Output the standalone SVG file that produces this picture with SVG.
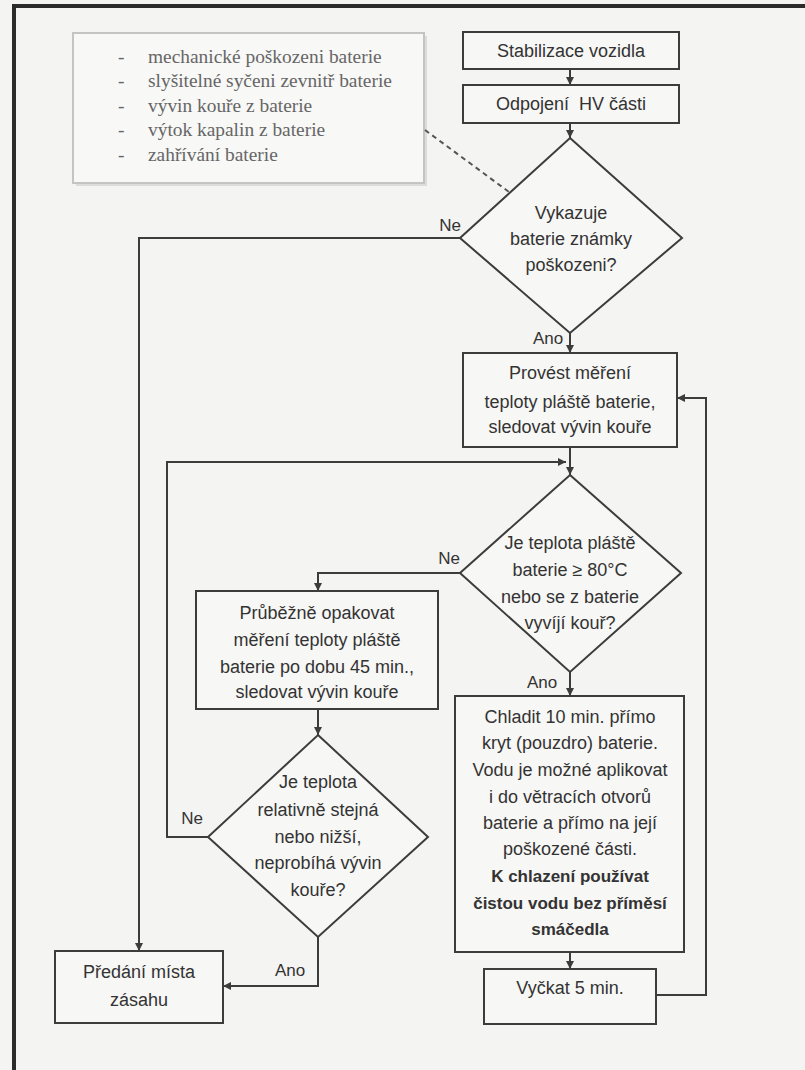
<svg xmlns="http://www.w3.org/2000/svg" width="805" height="1070" viewBox="0 0 805 1070">
<style>
.bg{fill:#f4f4f2}
.frame{fill:#2b2b2b}
.box{fill:#f7f7f5;stroke:#3c3c3c;stroke-width:2}
.note{fill:#f8f8f6;stroke:#c4c4c0;stroke-width:2}
.shadow{fill:#dcdcd8}
.t{font-family:"Liberation Sans",Arial,sans-serif;font-size:18px;fill:#333;text-anchor:middle}
.b{font-weight:bold;font-size:17px}
.lbl{font-family:"Liberation Sans",Arial,sans-serif;font-size:17px;fill:#333;text-anchor:middle}
.n{font-family:"Liberation Serif","Times New Roman",serif;font-size:19.4px;fill:#666}
.c{fill:none;stroke:#3c3c3c;stroke-width:2}
.d{fill:none;stroke:#555;stroke-width:2;stroke-dasharray:5 4}
</style>
<defs>
<marker id="ah" markerUnits="userSpaceOnUse" markerWidth="9" markerHeight="9" refX="8" refY="4" orient="auto">
<path d="M0,0 L8,4 L0,8 z" fill="#3c3c3c"/>
</marker>
</defs>
<rect class="bg" x="0" y="0" width="805" height="1070"/>
<rect class="frame" x="12" y="4" width="793" height="4"/>
<rect class="frame" x="12" y="4" width="4" height="1066"/>

<g id="note">
<rect class="shadow" x="76" y="36" width="351" height="150"/>
<rect class="note" x="73" y="33" width="351" height="150"/>
<text class="n" x="118" y="63">-</text><text class="n" x="148" y="63">mechanické poškozeni baterie</text>
<text class="n" x="118" y="87">-</text><text class="n" x="148" y="87">slyšitelné syčeni zevnitř baterie</text>
<text class="n" x="118" y="112">-</text><text class="n" x="148" y="112">vývin kouře z baterie</text>
<text class="n" x="118" y="136">-</text><text class="n" x="148" y="136">výtok kapalin z baterie</text>
<text class="n" x="118" y="161">-</text><text class="n" x="148" y="161">zahřívání baterie</text>
</g>

<g id="connectors">
<path class="d" d="M425,130 L509,192"/>
<path class="c" d="M570,69 L570,85" marker-end="url(#ah)"/>
<path class="c" d="M570,123 L570,138" marker-end="url(#ah)"/>
<path class="c" d="M570,333 L570,353" marker-end="url(#ah)"/>
<path class="c" d="M460,238 L139,238 L139,951" marker-end="url(#ah)"/>
<path class="c" d="M570,447 L570,475" marker-end="url(#ah)"/>
<path class="c" d="M460,573 L318,573 L318,591" marker-end="url(#ah)"/>
<path class="c" d="M318,709 L318,735" marker-end="url(#ah)"/>
<path class="c" d="M208,837 L167,837 L167,462 L566,462" marker-end="url(#ah)"/>
<path class="c" d="M318,937 L318,986 L223,986" marker-end="url(#ah)"/>
<path class="c" d="M570,672 L570,696" marker-end="url(#ah)"/>
<path class="c" d="M570,952 L570,969" marker-end="url(#ah)"/>
<path class="c" d="M656,995 L706,995 L706,398 L677,398" marker-end="url(#ah)"/>
<text class="lbl" x="450" y="231">Ne</text>
<text class="lbl" x="548" y="344">Ano</text>
<text class="lbl" x="449" y="564">Ne</text>
<text class="lbl" x="542" y="688">Ano</text>
<text class="lbl" x="192" y="824">Ne</text>
<text class="lbl" x="290" y="976">Ano</text>
</g>

<g id="stabilizace">
<rect class="box" x="463" y="32" width="216" height="37"/>
<text class="t" x="571" y="57">Stabilizace vozidla</text>
</g>
<g id="odpojeni">
<rect class="box" x="463" y="85" width="216" height="38"/>
<text class="t" x="571" y="110" xml:space="preserve">Odpojení  HV části</text>
</g>
<g id="d1">
<polygon class="box" points="570,138 682,238 570,333 460,238"/>
<text class="t" x="571" y="219">Vykazuje</text>
<text class="t" x="571" y="245">baterie známky</text>
<text class="t" x="571" y="271">poškozeni?</text>
</g>
<g id="provest">
<rect class="box" x="463" y="353" width="214" height="94"/>
<text class="t" x="570" y="379">Provést měření</text>
<text class="t" x="570" y="408">teploty pláště baterie,</text>
<text class="t" x="570" y="433">sledovat vývin kouře</text>
</g>
<g id="d2">
<polygon class="box" points="570,475 681,573 570,672 460,573"/>
<text class="t" x="570" y="549">Je teplota pláště</text>
<text class="t" x="570" y="576">baterie ≥ 80°C</text>
<text class="t" x="570" y="603">nebo se z baterie</text>
<text class="t" x="570" y="629">vyvíjí kouř?</text>
</g>
<g id="prubezne">
<rect class="box" x="196" y="591" width="242" height="118"/>
<text class="t" x="317" y="619">Průběžně opakovat</text>
<text class="t" x="317" y="646">měření teploty pláště</text>
<text class="t" x="317" y="673">baterie po dobu 45 min.,</text>
<text class="t" x="317" y="698">sledovat vývin kouře</text>
</g>
<g id="d3">
<polygon class="box" points="318,735 428,837 318,937 208,837"/>
<text class="t" x="318" y="788">Je teplota</text>
<text class="t" x="318" y="816">relativně stejná</text>
<text class="t" x="318" y="843">nebo nižší,</text>
<text class="t" x="318" y="869">neprobíhá vývin</text>
<text class="t" x="318" y="896">kouře?</text>
</g>
<g id="chladit">
<rect class="box" x="455" y="696" width="229" height="256"/>
<text class="t" x="570" y="723">Chladit 10 min. přímo</text>
<text class="t" x="570" y="749">kryt (pouzdro) baterie.</text>
<text class="t" x="570" y="776">Vodu je možné aplikovat</text>
<text class="t" x="570" y="803">i do větracích otvorů</text>
<text class="t" x="570" y="829">baterie a přímo na její</text>
<text class="t" x="570" y="855">poškozené části.</text>
<text class="t b" x="570" y="882">K chlazení používat</text>
<text class="t b" x="570" y="909">čistou vodu bez příměsí</text>
<text class="t b" x="570" y="935">smáčedla</text>
</g>
<g id="vyckat">
<rect class="box" x="484" y="969" width="172" height="55"/>
<text class="t" x="570" y="994">Vyčkat 5 min.</text>
</g>
<g id="predani">
<rect class="box" x="55" y="951" width="168" height="72"/>
<text class="t" x="139" y="978">Předání místa</text>
<text class="t" x="139" y="1006">zásahu</text>
</g>
</svg>
